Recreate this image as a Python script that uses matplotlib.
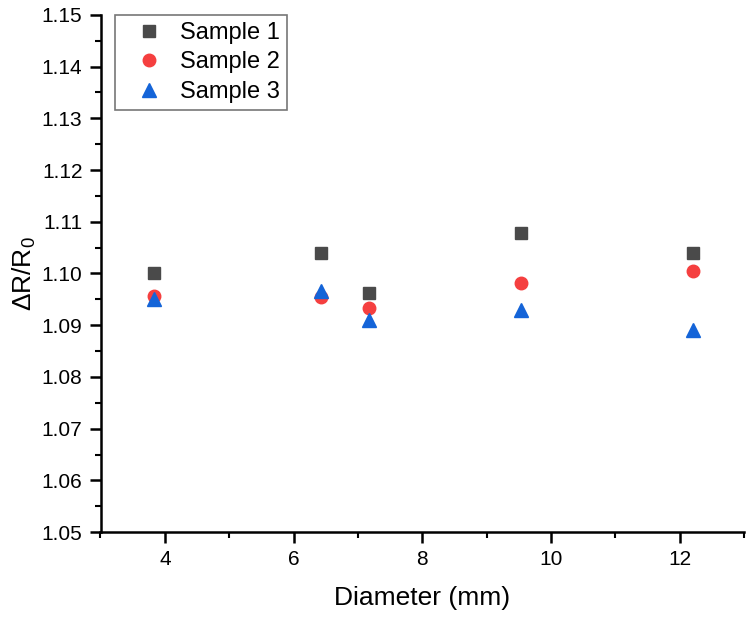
import matplotlib.pyplot as plt
from matplotlib.ticker import MultipleLocator

plt.rcParams['font.family'] = ['Liberation Sans', 'DejaVu Sans']
plt.rcParams['mathtext.fontset'] = 'custom'
plt.rcParams['mathtext.rm'] = 'Liberation Sans'

# диаметры (мм)
diameter = [3.83, 6.43, 7.17, 9.53, 12.2]

sample1 = [1.1001, 1.1040, 1.0963, 1.1079, 1.1040]
sample2 = [1.0956, 1.0955, 1.0933, 1.0981, 1.1004]
sample3 = [1.0950, 1.0967, 1.0911, 1.0930, 1.0890]

labels = ['Sample 1', 'Sample 2', 'Sample 3']

fig = plt.figure(figsize=(7.5, 6.18), dpi=100)
ax = fig.add_axes([0.134, 0.139, 0.858, 0.837])

ax.plot(diameter, sample1, 's', color='#4a4a4a', markersize=8.5, label=labels[0])
ax.plot(diameter, sample2, 'o', color='#f53f3f', markersize=9, label=labels[1])
ax.plot(diameter, sample3, '^', color='#1464d8', markersize=10, label=labels[2])

ax.set_xlim(3, 13)
ax.set_ylim(1.05, 1.15)
ax.xaxis.set_major_locator(MultipleLocator(2))
ax.xaxis.set_minor_locator(MultipleLocator(1))
ax.yaxis.set_major_locator(MultipleLocator(0.01))
ax.yaxis.set_minor_locator(MultipleLocator(0.005))
ax.yaxis.set_major_formatter(plt.FormatStrFormatter('%.2f'))

ax.spines['top'].set_visible(False)
ax.spines['right'].set_visible(False)
for s in ['left', 'bottom']:
    ax.spines[s].set_linewidth(1.8)

ax.tick_params(which='major', direction='out', length=8, width=1.8, labelsize=15, pad=5)
ax.tick_params(which='minor', direction='out', length=4, width=1.5)

ax.set_xlabel('Diameter (mm)', fontsize=19, labelpad=12)
ax.set_ylabel('ΔR/R$_0$', fontsize=19, labelpad=3)

leg = ax.legend(loc='upper left', bbox_to_anchor=(0.022, 1.0), fontsize=17,
                frameon=True, fancybox=False, edgecolor='#555555',
                handletextpad=0.1, borderpad=0.3, labelspacing=0.32,
                handlelength=2.35, borderaxespad=0)
leg.get_frame().set_linewidth(1.2)

fig.savefig('out.png', dpi=100)
